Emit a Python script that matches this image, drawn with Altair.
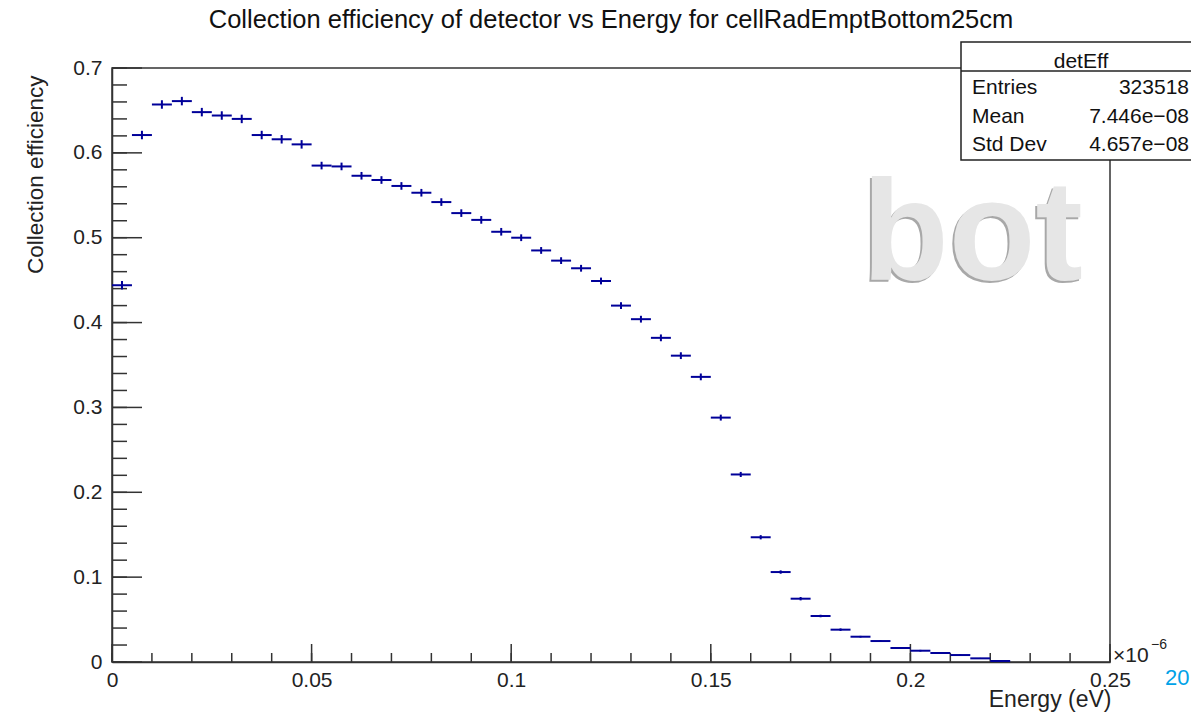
import altair as alt
import pandas as pd

# ---- data ----
bin_width = 0.005  # energy bin width (x 1e-6 eV)
efficiency = [0.444, 0.621, 0.657, 0.661, 0.648, 0.644, 0.640, 0.621, 0.616, 0.610,
              0.585, 0.584, 0.573, 0.568, 0.561, 0.553, 0.542, 0.529, 0.521, 0.507,
              0.500, 0.485, 0.473, 0.464, 0.449, 0.420, 0.404, 0.382, 0.361, 0.336,
              0.288, 0.221, 0.147, 0.106, 0.0746, 0.0542, 0.0381, 0.0298, 0.0247, 0.0165,
              0.0133, 0.0106, 0.0082, 0.0043, 0.0012]
errors = [0.005, 0.005, 0.005, 0.005, 0.005, 0.005, 0.005, 0.005, 0.005, 0.005,
          0.0045, 0.0045, 0.0045, 0.0045, 0.0045, 0.0045, 0.0045, 0.0045, 0.0045, 0.0045,
          0.004, 0.004, 0.004, 0.004, 0.004, 0.004, 0.004, 0.004, 0.004, 0.004,
          0.0035, 0.003, 0.0025, 0.002, 0.002, 0.0015, 0.0015, 0.001, 0.001, 0.001,
          0.001, 0.0008, 0.0008, 0.0005, 0.0003]

x_tick_labels = [0, 0.05, 0.1, 0.15, 0.2, 0.25]
y_tick_labels = [0, 0.1, 0.2, 0.3, 0.4, 0.5, 0.6, 0.7]
x_minor = [round(i * 0.01, 2) for i in range(26)]
y_minor = [round(i * 0.02, 2) for i in range(36)]

stat_names = ["Entries", "Mean", "Std Dev"]
stat_values = ["323518", "7.446e\u221208", "4.657e\u221208"]

title_text = "Collection efficiency of detector vs Energy for cellRadEmptBottom25cm"

# ---- tables ----
n = len(efficiency)
df = pd.DataFrame({
    "lo": [i * bin_width for i in range(n)],
    "hi": [(i + 1) * bin_width for i in range(n)],
    "mid": [(i + 0.5) * bin_width for i in range(n)],
    "eff": efficiency,
    "elo": [v - e for v, e in zip(efficiency, errors)],
    "ehi": [v + e for v, e in zip(efficiency, errors)],
})

FONT = "Liberation Sans"
W, H = 998, 594
COLOR = "#000099"
AX = "#333333"

xs = alt.Scale(domain=[0, 0.25], nice=False, zero=False)
ys = alt.Scale(domain=[0, 0.7], nice=False, zero=False)

x_axis = alt.Axis(values=x_tick_labels, format="~g", ticks=False, grid=False,
                  domainColor=AX, domainWidth=1.5,
                  labelFont=FONT, labelFontSize=21, labelColor="#222", labelPadding=7,
                  labelFlush=False, labelOverlap=False,
                  title="Energy (eV)", titleFont=FONT, titleFontSize=23,
                  titleFontWeight="normal", titleColor="#222",
                  titleX=999, titleY=44, titleAlign="right", titleBaseline="alphabetic")
y_axis = alt.Axis(values=y_tick_labels, format="~g", ticks=False, grid=False,
                  domainColor=AX, domainWidth=1.5,
                  labelFont=FONT, labelFontSize=21, labelColor="#222", labelPadding=10,
                  labelFlush=False, labelOverlap=False,
                  title="Collection efficiency", titleFont=FONT, titleFontSize=22.5,
                  titleFontWeight="normal", titleColor="#222", titleAngle=270,
                  titleX=-77, titleY=7, titleAlign="right", titleBaseline="middle")

hbars = alt.Chart(df).mark_rule(color=COLOR, strokeWidth=2).encode(
    x=alt.X("lo:Q", scale=xs, axis=x_axis),
    x2="hi:Q",
    y=alt.Y("eff:Q", scale=ys, axis=y_axis),
)
vbars = alt.Chart(df).mark_rule(color=COLOR, strokeWidth=2).encode(
    x=alt.X("mid:Q", scale=xs, axis=x_axis),
    y=alt.Y("elo:Q", scale=ys, axis=y_axis),
    y2="ehi:Q",
)

# inward ticks, ROOT style
ymaj = alt.Chart(pd.DataFrame({"v": y_tick_labels})).mark_rule(color=AX, strokeWidth=1.5).encode(
    y=alt.Y("v:Q", scale=ys, axis=y_axis), x=alt.value(0), x2=alt.value(30))
ymin = alt.Chart(pd.DataFrame({"v": y_minor})).mark_rule(color=AX, strokeWidth=1.5).encode(
    y=alt.Y("v:Q", scale=ys, axis=y_axis), x=alt.value(0), x2=alt.value(15))
xmaj = alt.Chart(pd.DataFrame({"v": x_tick_labels})).mark_rule(color=AX, strokeWidth=1.5).encode(
    x=alt.X("v:Q", scale=xs, axis=x_axis), y=alt.value(H), y2=alt.value(H - 18))
xmin = alt.Chart(pd.DataFrame({"v": x_minor})).mark_rule(color=AX, strokeWidth=1.5).encode(
    x=alt.X("v:Q", scale=xs, axis=x_axis), y=alt.value(H), y2=alt.value(H - 9))

one = pd.DataFrame({"a": [0]})

# watermark "bot"
wm_shadow = alt.Chart(one).mark_text(text="bot", font=FONT, fontWeight="bold", fontSize=142,
                                     align="left", baseline="alphabetic", color="#a8a8a8").encode(
    x=alt.value(748), y=alt.value(214))
wm = alt.Chart(one).mark_text(text="bot", font=FONT, fontWeight="bold", fontSize=142,
                              align="left", baseline="alphabetic", color="#e6e6e6").encode(
    x=alt.value(750), y=alt.value(212))

# exponent label
exp1 = alt.Chart(one).mark_text(text="\u00d710", font=FONT, fontSize=21, align="left",
                                baseline="alphabetic", color="#222").encode(
    x=alt.value(1001), y=alt.value(H))
exp2 = alt.Chart(one).mark_text(text="\u22126", font=FONT, fontSize=14, align="left",
                                baseline="alphabetic", color="#222").encode(
    x=alt.value(1039), y=alt.value(H - 13))
page_no = alt.Chart(one).mark_text(text="20", font=FONT, fontSize=22, align="left",
                                   baseline="alphabetic", color="#00a2e8").encode(
    x=alt.value(1053), y=alt.value(H + 23))

# stats box
box = alt.Chart(one).mark_rect(fill="white", stroke="#222", strokeWidth=1.5).encode(
    x=alt.value(849), x2=alt.value(1095), y=alt.value(-26), y2=alt.value(92))
sep = alt.Chart(one).mark_rule(color="#222", strokeWidth=1.5).encode(
    x=alt.value(849), x2=alt.value(1095), y=alt.value(3))
head = alt.Chart(one).mark_text(text="detEff", font=FONT, fontSize=21, align="center",
                                baseline="alphabetic", color="#111").encode(
    x=alt.value(969), y=alt.value(0))
stat_layers = []
for i, (nm, vl) in enumerate(zip(stat_names, stat_values)):
    yy = 26 + 28.5 * i
    stat_layers.append(alt.Chart(one).mark_text(text=nm, font=FONT, fontSize=21, align="left",
                                                baseline="alphabetic", color="#111").encode(
        x=alt.value(860), y=alt.value(yy)))
    stat_layers.append(alt.Chart(one).mark_text(text=vl, font=FONT, fontSize=21, align="right",
                                                baseline="alphabetic", color="#111").encode(
        x=alt.value(1077), y=alt.value(yy)))

chart = alt.layer(
    wm_shadow, wm, ymin, ymaj, xmin, xmaj, hbars, vbars, exp1, exp2, page_no,
    box, sep, head, *stat_layers
).properties(
    width=W, height=H,
    title=alt.TitleParams(title_text, font=FONT, fontSize=25.5, fontWeight="normal",
                          color="#111", anchor="middle", offset=8),
    autosize=alt.AutoSizeParams(type="none"),
    padding={"left": 104, "top": 60, "right": 81, "bottom": 50},
    background="white",
).configure_view(stroke=AX, strokeWidth=1.5)

chart.save("out.html", embed_options={"renderer": "svg", "actions": False})
